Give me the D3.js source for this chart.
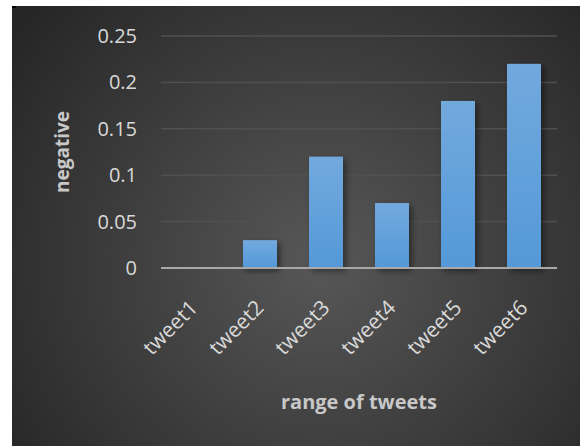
<!DOCTYPE html>
<html>
<head>
<meta charset="utf-8">
<script src="https://cdn.jsdelivr.net/npm/d3@7"></script>
<style>
  body { margin: 0; background: #fff; }
  svg { display: block; }
</style>
</head>
<body>
<div id="chart"></div>
<script>
var categories = ["tweet1", "tweet2", "tweet3", "tweet4", "tweet5", "tweet6"];
var negative = [0, 0.03, 0.12, 0.07, 0.18, 0.22];
var yTicks = [0, 0.05, 0.1, 0.15, 0.2, 0.25];

function init() {
    var w = 580;
    var h = 446;

    var left = 161, right = 557, top = 36, bottom = 268;

    var svg = d3.select("#chart")
                .append("svg")
                .attr("width", w)
                .attr("height", h);

    var defs = svg.append("defs");

    var bg = defs.append("radialGradient")
                 .attr("id", "bg")
                 .attr("gradientUnits", "userSpaceOnUse")
                 .attr("cx", 320).attr("cy", 260).attr("r", 380);
    bg.append("stop").attr("offset", "0%").attr("stop-color", "#575757");
    bg.append("stop").attr("offset", "100%").attr("stop-color", "#262626");

    var barGrad = defs.append("linearGradient")
                      .attr("id", "bar")
                      .attr("x1", 0).attr("y1", 0).attr("x2", 0).attr("y2", 1);
    barGrad.append("stop").attr("offset", "0%").attr("stop-color", "#72a9dd");
    barGrad.append("stop").attr("offset", "100%").attr("stop-color", "#5499d8");

    var shadow = defs.append("filter")
                     .attr("id", "shadow")
                     .attr("x", "-30%").attr("y", "-10%")
                     .attr("width", "160%").attr("height", "130%");
    shadow.append("feDropShadow")
          .attr("dx", 3).attr("dy", 3)
          .attr("stdDeviation", 3)
          .attr("flood-color", "#000")
          .attr("flood-opacity", 0.45);

    // chart area background
    svg.append("rect")
       .attr("x", 12).attr("y", 6)
       .attr("width", w - 12).attr("height", h - 6)
       .attr("fill", "url(#bg)");

    svg.append("rect")
       .attr("x", 12).attr("y", 6)
       .attr("width", 4).attr("height", 2)
       .attr("fill", "#000");

    var xScale = d3.scaleBand()
                   .domain(categories)
                   .range([left, right])
                   .paddingInner(0.485)
                   .paddingOuter(0.2425);

    var yScale = d3.scaleLinear()
                   .domain([0, 0.25])
                   .range([bottom, top]);

    // gridlines
    svg.append("g")
       .selectAll("line")
       .data(yTicks.slice(1))
       .enter()
       .append("line")
       .attr("x1", left)
       .attr("x2", right)
       .attr("y1", function(d) { return yScale(d); })
       .attr("y2", function(d) { return yScale(d); })
       .attr("stroke", "#505050")
       .attr("stroke-width", 1.5);

    // bars
    svg.append("g")
       .selectAll("rect")
       .data(negative)
       .enter()
       .append("rect")
       .attr("x", function(d, i) { return xScale(categories[i]); })
       .attr("y", function(d) { return yScale(d); })
       .attr("width", xScale.bandwidth())
       .attr("height", function(d) { return bottom - yScale(d); })
       .attr("fill", "url(#bar)")
       .attr("filter", "url(#shadow)");

    // baseline
    svg.append("line")
       .attr("x1", left).attr("x2", right)
       .attr("y1", yScale(0)).attr("y2", yScale(0))
       .attr("stroke", "#a8a8a8")
       .attr("stroke-width", 2);

    var yAxis = d3.axisLeft(yScale)
                  .tickValues(yTicks)
                  .tickSize(0)
                  .tickPadding(0)
                  .tickFormat(function(d) { return String(+d.toFixed(2)); });

    var gy = svg.append("g")
                .attr("transform", "translate(137, 0)")
                .call(yAxis);
    gy.select(".domain").remove();
    gy.selectAll("text")
      .attr("fill", "#d9d9d9")
      .style("font-family", "'Open Sans', sans-serif")
      .style("font-size", "20px");

    var xAxis = d3.axisBottom(xScale)
                  .tickSize(0)
                  .tickPadding(0);

    var gx = svg.append("g")
                .attr("transform", "translate(0, " + bottom + ")")
                .call(xAxis);
    gx.select(".domain").remove();
    gx.selectAll("text")
      .attr("fill", "#d9d9d9")
      .attr("dy", null)
      .attr("y", 0)
      .attr("text-anchor", "end")
      .attr("transform", "translate(5, 41) rotate(-45)")
      .style("font-family", "'Open Sans', sans-serif")
      .style("font-size", "21px");

    // axis titles
    svg.append("text")
       .attr("transform", "translate(69, " + ((top + bottom) / 2) + ") rotate(-90)")
       .attr("text-anchor", "middle")
       .attr("fill", "#c8c8c8")
       .style("font-family", "'Open Sans', sans-serif")
       .style("font-weight", "bold")
       .style("font-size", "19px")
       .text("negative");

    svg.append("text")
       .attr("x", (left + right) / 2)
       .attr("y", 409)
       .attr("text-anchor", "middle")
       .attr("fill", "#c8c8c8")
       .style("font-family", "'Open Sans', sans-serif")
       .style("font-weight", "bold")
       .style("font-size", "20px")
       .text("range of tweets");
}

window.onload = init;
</script>
</body>
</html>
